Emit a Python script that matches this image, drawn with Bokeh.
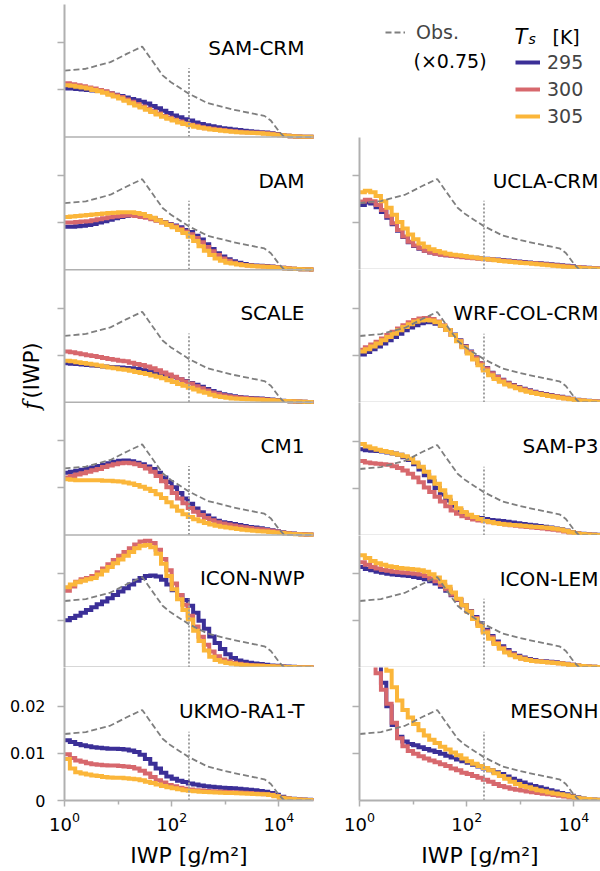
import numpy as np
from bokeh.plotting import figure
from bokeh.models import (Range1d, FixedTicker, Span, Label, Legend, LegendItem,
                          CustomJSTickFormatter)
from bokeh.layouts import row, column
from bokeh.embed import file_html
from bokeh.resources import INLINE

# ---------------- data (f(IWP) in units of 1e-3, 10 log-bins per decade) ----------------
iwp_edges = 10 ** (np.arange(48) / 10.0)          # bin edges 10^0 ... 10^4.7 g/m2
temps = ["295", "300", "305"]

sam_crm_295 = [10.3, 10.3, 10.2, 10.1, 10.0, 9.9, 9.8, 9.6, 9.3, 9.0,
               8.7, 8.4, 8.1, 7.8, 7.5, 7.1, 6.6, 6.1, 5.6, 5.1,
               4.6, 4.2, 3.8, 3.5, 3.1, 2.8, 2.5, 2.3, 2.1, 1.9,
               1.75, 1.6, 1.5, 1.35, 1.25, 1.15, 1.05, 0.95, 0.8, 0.65,
               0.45, 0.3, 0.2, 0.15, 0.1, 0.07, 0.05]
sam_crm_300 = [11.4, 11.2, 11.0, 10.8, 10.5, 10.3, 10.0, 9.7, 9.3, 8.9,
               8.5, 8.0, 7.5, 7.0, 6.5, 6.0, 5.5, 5.0, 4.5, 4.1,
               3.7, 3.3, 2.9, 2.6, 2.4, 2.1, 1.9, 1.75, 1.6, 1.5,
               1.35, 1.25, 1.15, 1.05, 1.0, 0.95, 0.9, 0.8, 0.7, 0.55,
               0.4, 0.3, 0.2, 0.15, 0.1, 0.07, 0.05]
sam_crm_305 = [11.0, 10.9, 10.7, 10.5, 10.3, 10.0, 9.7, 9.4, 9.0, 8.6,
               8.2, 7.7, 7.2, 6.7, 6.3, 5.8, 5.3, 4.8, 4.3, 3.9,
               3.5, 3.1, 2.8, 2.5, 2.2, 2.0, 1.8, 1.6, 1.5, 1.35,
               1.25, 1.15, 1.05, 1.0, 0.9, 0.85, 0.8, 0.7, 0.6, 0.5,
               0.4, 0.3, 0.2, 0.15, 0.1, 0.07, 0.05]

dam_295 = [9.1, 9.1, 9.2, 9.3, 9.5, 9.7, 10.0, 10.3, 10.6, 10.9,
           11.2, 11.4, 11.6, 11.6, 11.5, 11.2, 10.9, 10.5, 10.1, 9.7,
           9.4, 9.0, 8.4, 8.0, 7.2, 6.4, 5.4, 4.4, 3.5, 2.8,
           2.2, 1.8, 1.5, 1.2, 1.0, 0.9, 0.85, 0.8, 0.7, 0.55,
           0.4, 0.3, 0.2, 0.15, 0.1, 0.07, 0.05]
dam_300 = [10.0, 10.0, 10.1, 10.2, 10.3, 10.5, 10.7, 10.9, 11.1, 11.3,
           11.4, 11.5, 11.5, 11.4, 11.2, 11.0, 10.7, 10.4, 10.0, 9.6,
           9.2, 8.7, 8.1, 7.5, 6.7, 5.8, 4.8, 3.9, 3.1, 2.4,
           1.9, 1.5, 1.2, 1.0, 0.9, 0.8, 0.75, 0.7, 0.6, 0.5,
           0.4, 0.3, 0.2, 0.15, 0.1, 0.07, 0.05]
dam_305 = [11.2, 11.3, 11.4, 11.5, 11.6, 11.7, 11.8, 11.9, 12.0, 12.1,
           12.2, 12.2, 12.2, 12.0, 11.8, 11.4, 11.0, 10.5, 10.0, 9.5,
           9.0, 8.4, 7.8, 7.0, 6.1, 5.0, 4.0, 3.1, 2.4, 1.9,
           1.5, 1.3, 1.1, 0.95, 0.85, 0.75, 0.7, 0.65, 0.55, 0.45,
           0.35, 0.25, 0.2, 0.15, 0.1, 0.07, 0.05]

scale_295 = [8.3, 8.2, 8.1, 8.0, 7.9, 7.8, 7.7, 7.6, 7.5, 7.45,
             7.4, 7.3, 7.2, 7.05, 6.9, 6.7, 6.4, 6.2, 5.9, 5.6,
             5.3, 4.9, 4.5, 4.1, 3.7, 3.3, 2.8, 2.4, 2.0, 1.7,
             1.5, 1.3, 1.1, 1.0, 0.9, 0.85, 0.8, 0.7, 0.6, 0.5,
             0.35, 0.25, 0.2, 0.15, 0.1, 0.07, 0.05]
scale_300 = [10.8, 10.6, 10.4, 10.2, 10.0, 9.8, 9.6, 9.4, 9.2, 9.0,
             8.8, 8.7, 8.4, 8.1, 7.9, 7.6, 7.2, 6.8, 6.3, 5.9,
             5.4, 4.9, 4.4, 4.0, 3.4, 3.0, 2.5, 2.1, 1.8, 1.5,
             1.3, 1.1, 1.0, 0.9, 0.8, 0.75, 0.7, 0.6, 0.5, 0.4,
             0.3, 0.25, 0.2, 0.15, 0.1, 0.07, 0.05]
scale_305 = [8.8, 8.7, 8.5, 8.35, 8.2, 8.0, 7.8, 7.6, 7.4, 7.2,
             7.0, 6.9, 6.7, 6.4, 6.2, 6.0, 5.7, 5.4, 5.1, 4.7,
             4.3, 3.9, 3.5, 3.1, 2.7, 2.3, 2.0, 1.6, 1.3, 1.1,
             0.95, 0.8, 0.75, 0.7, 0.65, 0.6, 0.55, 0.5, 0.45, 0.4,
             0.3, 0.25, 0.2, 0.15, 0.1, 0.07, 0.05]

cm1_295 = [13.2, 13.4, 13.6, 13.8, 14.1, 14.3, 14.6, 14.9, 15.2, 15.5,
           15.7, 15.8, 15.6, 15.3, 15.0, 14.5, 14.0, 13.2, 12.2, 11.2,
           10.1, 8.9, 7.7, 6.6, 5.6, 4.8, 4.1, 3.5, 3.0, 2.7,
           2.5, 2.3, 2.1, 1.9, 1.7, 1.55, 1.4, 1.2, 1.0, 0.8,
           0.55, 0.4, 0.3, 0.2, 0.15, 0.1, 0.07]
cm1_300 = [12.2, 12.5, 12.8, 13.1, 13.4, 13.7, 14.0, 14.4, 14.7, 15.0,
           15.2, 15.3, 15.2, 15.0, 14.6, 14.1, 13.4, 12.5, 11.4, 10.1,
           8.9, 7.7, 6.7, 5.7, 4.9, 4.2, 3.6, 3.1, 2.7, 2.4,
           2.2, 2.0, 1.8, 1.6, 1.45, 1.3, 1.2, 1.05, 0.9, 0.7,
           0.5, 0.35, 0.25, 0.2, 0.15, 0.1, 0.07]
cm1_305 = [11.8, 11.7, 11.6, 11.6, 11.6, 11.6, 11.6, 11.5, 11.5, 11.4,
           11.3, 11.1, 10.9, 10.6, 10.2, 9.8, 9.3, 8.6, 7.8, 6.9,
           6.0, 5.1, 4.4, 3.8, 3.3, 2.9, 2.5, 2.2, 1.95, 1.75,
           1.55, 1.4, 1.25, 1.1, 1.0, 0.9, 0.8, 0.7, 0.6, 0.5,
           0.4, 0.3, 0.2, 0.15, 0.1, 0.07, 0.05]

icon_nwp_295 = [10.0, 10.5, 11.0, 11.6, 12.2, 12.8, 13.4, 14.0, 14.7, 15.4,
                16.1, 16.8, 17.6, 18.4, 19.0, 19.4, 19.5, 19.3, 18.6, 17.6,
                16.4, 15.3, 14.3, 13.1, 11.6, 9.9, 8.2, 6.6, 5.2, 3.9,
                2.8, 2.0, 1.5, 1.2, 1.0, 0.85, 0.75, 0.6, 0.45, 0.35,
                0.25, 0.2, 0.15, 0.1, 0.07, 0.05, 0.03]
icon_nwp_300 = [16.3, 17.2, 18.2, 18.7, 19.0, 19.4, 20.2, 21.0, 21.9, 22.8,
                23.7, 24.5, 25.3, 26.1, 26.7, 26.9, 26.4, 25.0, 23.0, 20.6,
                17.8, 15.4, 13.3, 11.0, 8.7, 6.5, 4.8, 3.4, 2.4, 1.7,
                1.3, 1.0, 0.8, 0.65, 0.55, 0.45, 0.4, 0.3, 0.25, 0.2,
                0.15, 0.1, 0.08, 0.06, 0.05, 0.04, 0.03]
icon_nwp_305 = [17.0, 17.6, 18.1, 18.4, 18.7, 19.0, 19.7, 20.5, 21.3, 22.1,
                22.9, 23.7, 24.5, 25.3, 25.8, 26.0, 25.5, 24.1, 22.0, 19.4,
                16.6, 14.5, 12.2, 10.2, 7.8, 5.6, 3.6, 2.3, 1.6, 1.2,
                0.95, 0.8, 0.65, 0.55, 0.45, 0.4, 0.35, 0.3, 0.25, 0.2,
                0.15, 0.1, 0.08, 0.06, 0.05, 0.04, 0.03]

ukmo_295 = [12.8, 12.4, 12.0, 11.7, 11.5, 11.3, 11.2, 11.1, 11.0, 11.0,
            10.9, 10.8, 10.6, 10.3, 9.7, 8.8, 7.8, 6.8, 5.9, 5.1,
            4.6, 4.2, 3.9, 3.6, 3.4, 3.2, 3.0, 2.9, 2.8, 2.7,
            2.65, 2.6, 2.5, 2.4, 2.3, 2.2, 2.0, 1.85, 1.6, 1.2,
            0.8, 0.5, 0.35, 0.25, 0.2, 0.15, 0.1]
ukmo_300 = [9.8, 9.0, 8.5, 8.2, 7.9, 7.7, 7.6, 7.5, 7.4, 7.4,
            7.3, 7.2, 7.1, 6.8, 6.3, 5.7, 5.0, 4.3, 3.8, 3.3,
            3.0, 2.7, 2.5, 2.35, 2.2, 2.1, 2.0, 1.95, 1.9, 1.85,
            1.8, 1.75, 1.7, 1.65, 1.6, 1.5, 1.45, 1.35, 1.2, 0.95,
            0.6, 0.4, 0.3, 0.2, 0.15, 0.12, 0.1]
ukmo_305 = [8.8, 6.8, 6.0, 5.7, 5.5, 5.3, 5.2, 5.0, 4.9, 4.85,
            4.8, 4.7, 4.6, 4.5, 4.3, 4.0, 3.7, 3.4, 3.1, 2.8,
            2.6, 2.4, 2.2, 2.05, 1.95, 1.85, 1.8, 1.75, 1.7, 1.65,
            1.6, 1.6, 1.55, 1.5, 1.45, 1.4, 1.35, 1.3, 1.15, 0.9,
            0.6, 0.4, 0.3, 0.2, 0.15, 0.12, 0.1]

ucla_295 = [13.7, 14.2, 14.0, 13.2, 12.2, 11.0, 9.6, 8.2, 6.9, 5.8,
            5.0, 4.4, 4.0, 3.6, 3.4, 3.2, 3.0, 2.9, 2.8, 2.7,
            2.6, 2.5, 2.4, 2.3, 2.2, 2.1, 2.0, 1.9, 1.8, 1.7,
            1.6, 1.5, 1.4, 1.3, 1.2, 1.1, 1.0, 0.9, 0.8, 0.7,
            0.55, 0.45, 0.35, 0.25, 0.2, 0.15, 0.1]
ucla_300 = [14.4, 14.8, 14.5, 13.7, 12.6, 11.3, 9.8, 8.4, 7.0, 5.9,
            5.1, 4.5, 4.0, 3.6, 3.35, 3.15, 3.0, 2.85, 2.75, 2.6,
            2.5, 2.4, 2.3, 2.2, 2.1, 2.0, 1.9, 1.8, 1.7, 1.6,
            1.5, 1.4, 1.3, 1.2, 1.1, 1.0, 0.9, 0.8, 0.7, 0.6,
            0.5, 0.4, 0.3, 0.25, 0.2, 0.15, 0.1]
ucla_305 = [16.4, 16.7, 16.4, 15.6, 14.5, 13.1, 11.6, 10.1, 8.7, 7.4,
            6.4, 5.5, 4.8, 4.3, 3.9, 3.6, 3.35, 3.15, 3.0, 2.85,
            2.7, 2.55, 2.4, 2.25, 2.1, 1.95, 1.8, 1.7, 1.6, 1.5,
            1.4, 1.3, 1.2, 1.1, 1.0, 0.9, 0.8, 0.7, 0.6, 0.5,
            0.4, 0.3, 0.25, 0.2, 0.15, 0.1, 0.08]

wrf_295 = [10.2, 10.7, 11.3, 11.9, 12.5, 13.2, 13.9, 14.6, 15.3, 15.9,
           16.4, 16.8, 17.0, 17.0, 16.7, 16.2, 15.4, 14.4, 13.2, 12.0,
           10.8, 9.6, 8.4, 7.3, 6.3, 5.5, 4.8, 4.2, 3.7, 3.3,
           2.9, 2.6, 2.3, 2.0, 1.8, 1.6, 1.4, 1.2, 1.0, 0.8,
           0.6, 0.45, 0.35, 0.25, 0.2, 0.15, 0.1]
wrf_300 = [11.2, 11.7, 12.3, 12.9, 13.6, 14.3, 15.0, 15.7, 16.4, 17.0,
           17.5, 17.8, 17.9, 17.7, 17.2, 16.4, 15.4, 14.3, 13.1, 11.9,
           10.7, 9.5, 8.3, 7.2, 6.2, 5.4, 4.7, 4.1, 3.6, 3.2,
           2.8, 2.5, 2.2, 1.9, 1.7, 1.5, 1.3, 1.1, 0.9, 0.75,
           0.55, 0.4, 0.3, 0.25, 0.2, 0.15, 0.1]
wrf_305 = [10.8, 11.3, 11.9, 12.5, 13.2, 13.9, 14.6, 15.3, 16.0, 16.6,
           17.1, 17.4, 17.5, 17.4, 17.0, 16.3, 15.4, 14.3, 13.0, 11.7,
           10.4, 9.1, 7.9, 6.8, 5.8, 5.0, 4.4, 3.8, 3.4, 3.0,
           2.6, 2.3, 2.0, 1.8, 1.6, 1.4, 1.2, 1.0, 0.85, 0.7,
           0.5, 0.4, 0.3, 0.2, 0.15, 0.1, 0.08]

sam_p3_295 = [18.3, 18.1, 18.0, 17.9, 17.8, 17.6, 17.4, 17.1, 16.6, 16.0,
              15.1, 14.0, 12.8, 11.5, 10.1, 8.7, 7.4, 6.3, 5.4, 4.7,
              4.2, 3.9, 3.7, 3.5, 3.3, 3.2, 3.05, 2.9, 2.75, 2.6,
              2.45, 2.3, 2.15, 2.0, 1.85, 1.7, 1.5, 1.3, 1.05, 0.75,
              0.5, 0.35, 0.25, 0.2, 0.15, 0.1, 0.08]
sam_p3_300 = [15.8, 15.5, 15.3, 15.2, 15.1, 15.0, 14.7, 14.3, 13.8, 13.1,
              12.3, 11.3, 10.2, 9.2, 8.2, 7.2, 6.2, 5.3, 4.6, 4.1,
              3.7, 3.4, 3.2, 3.0, 2.8, 2.65, 2.5, 2.35, 2.2, 2.05,
              1.9, 1.8, 1.7, 1.6, 1.5, 1.35, 1.2, 1.05, 0.85, 0.65,
              0.45, 0.3, 0.2, 0.15, 0.12, 0.1, 0.08]
sam_p3_305 = [19.4, 18.9, 18.5, 18.2, 17.9, 17.7, 17.4, 17.1, 16.8, 16.3,
              15.5, 14.6, 13.5, 12.3, 11.0, 9.6, 8.2, 6.9, 5.8, 5.0,
              4.4, 3.9, 3.5, 3.1, 2.85, 2.6, 2.45, 2.35, 2.25, 2.15,
              2.05, 1.95, 1.85, 1.8, 1.7, 1.6, 1.45, 1.25, 1.0, 0.7,
              0.45, 0.3, 0.2, 0.15, 0.12, 0.1, 0.08]

icon_lem_295 = [21.3, 20.9, 20.6, 20.3, 20.1, 19.9, 19.7, 19.6, 19.5, 19.4,
                19.2, 19.0, 18.7, 18.3, 17.8, 17.1, 16.3, 15.3, 14.3, 13.2,
                12.0, 10.7, 9.4, 8.0, 6.7, 5.5, 4.5, 3.7, 3.0, 2.5,
                2.1, 1.8, 1.6, 1.4, 1.3, 1.2, 1.1, 0.95, 0.8, 0.6,
                0.45, 0.3, 0.2, 0.15, 0.1, 0.08, 0.05]
icon_lem_300 = [22.3, 21.8, 21.3, 21.0, 20.7, 20.5, 20.3, 20.2, 20.1, 20.0,
                19.9, 19.7, 19.4, 18.9, 18.3, 17.5, 16.6, 15.5, 14.4, 13.2,
                11.9, 10.5, 9.1, 7.7, 6.4, 5.2, 4.2, 3.4, 2.8, 2.3,
                1.9, 1.65, 1.45, 1.3, 1.2, 1.1, 1.0, 0.9, 0.75, 0.6,
                0.45, 0.3, 0.2, 0.15, 0.1, 0.08, 0.05]
icon_lem_305 = [23.8, 23.2, 22.6, 22.1, 21.8, 21.5, 21.3, 21.1, 21.0, 20.9,
                20.8, 20.6, 20.3, 19.8, 19.1, 18.2, 17.1, 15.9, 14.6, 13.2,
                11.8, 10.3, 8.8, 7.4, 6.1, 5.0, 4.0, 3.2, 2.6, 2.2,
                1.85, 1.6, 1.4, 1.25, 1.15, 1.05, 0.95, 0.85, 0.7, 0.55,
                0.4, 0.3, 0.2, 0.15, 0.1, 0.08, 0.05]

mesonh_295 = [58.0, 44.0, 33.0, 29.0, 25.0, 20.0, 16.0, 13.5, 12.5, 12.0,
              11.7, 11.3, 10.9, 10.6, 10.3, 9.9, 9.5, 9.1, 8.7, 8.3,
              8.0, 7.6, 7.2, 6.8, 6.4, 6.0, 5.6, 5.1, 4.6, 4.2,
              3.8, 3.4, 3.1, 2.8, 2.5, 2.2, 1.9, 1.6, 1.35, 1.0,
              0.7, 0.45, 0.3, 0.2, 0.15, 0.1, 0.07]
mesonh_300 = [60.0, 45.0, 34.0, 27.0, 23.5, 20.5, 16.5, 13.2, 11.5, 10.5,
              9.9, 9.4, 8.9, 8.5, 8.1, 7.7, 7.3, 6.8, 6.4, 5.9,
              5.6, 5.2, 4.8, 4.4, 4.0, 3.5, 3.1, 2.8, 2.5, 2.3,
              2.1, 1.9, 1.75, 1.6, 1.45, 1.3, 1.15, 1.0, 0.85, 0.65,
              0.45, 0.3, 0.2, 0.15, 0.1, 0.08, 0.05]
mesonh_305 = [75.0, 55.0, 42.0, 35.0, 31.0, 27.5, 24.0, 21.2, 19.2, 17.6,
              16.2, 14.9, 13.8, 12.9, 12.2, 11.4, 10.8, 10.2, 9.6, 8.9,
              8.3, 7.8, 7.3, 6.9, 6.4, 5.8, 5.2, 4.6, 4.0, 3.5,
              3.1, 2.8, 2.5, 2.2, 1.95, 1.7, 1.5, 1.3, 1.1, 0.85,
              0.6, 0.4, 0.3, 0.2, 0.15, 0.1, 0.07]

# observations (already scaled x0.75), same in every panel
obs_iwp = [1.0, 2.5, 7.2, 14.8, 28.2, 67.6, 95.5, 209.0, 468.0, 1450.0,
           5370.0, 7080.0, 10200.0, 12600.0, 50000.0]
obs_f = [14.1, 14.5, 15.9, 17.7, 19.2, 13.1, 11.7, 9.2, 7.2, 5.8,
         4.5, 3.5, 1.1, 0.0, 0.0]

iwp_threshold = 210.0          # dotted vertical reference line
threshold_top = 14.6           # (1e-3 units)

upper_left_panels = [("SAM-CRM", sam_crm_295, sam_crm_300, sam_crm_305),
                     ("DAM", dam_295, dam_300, dam_305),
                     ("SCALE", scale_295, scale_300, scale_305),
                     ("CM1", cm1_295, cm1_300, cm1_305),
                     ("ICON-NWP", icon_nwp_295, icon_nwp_300, icon_nwp_305)]
bottom_left_panel = ("UKMO-RA1-T", ukmo_295, ukmo_300, ukmo_305)
right_panels = [("UCLA-CRM", ucla_295, ucla_300, ucla_305),
                ("WRF-COL-CRM", wrf_295, wrf_300, wrf_305),
                ("SAM-P3", sam_p3_295, sam_p3_300, sam_p3_305),
                ("ICON-LEM", icon_lem_295, icon_lem_300, icon_lem_305),
                ("MESONH", mesonh_295, mesonh_300, mesonh_305)]

# ---------------- styling ----------------
COLORS = ["#3b2f97", "#d7686d", "#fbb63a"]
OBS_COLOR = "#7f7f7f"
THR_COLOR = "#a0a0a0"
AX = "#b0b0b0"
FONT = "DejaVu Sans"
PX = 4715.0          # screen px per unit of f
DEC = 53.6           # screen px per decade
LX_END = 10 ** (249 / DEC)
RX_END = 10 ** (241 / DEC)
YLAB_W = 52


def add_curves(p, series, yname):
    for vals, col in zip(series, COLORS):
        f = np.append(np.asarray(vals, float), vals[-1]) * 1e-3
        p.step(x=iwp_edges, y=f, mode="after", line_color=col, line_width=4,
               line_join="miter", y_range_name=yname)
    p.line(obs_iwp, np.asarray(obs_f) * 1e-3, line_color=OBS_COLOR, line_width=1.8,
           line_dash="6 3", y_range_name=yname)
    p.line([iwp_threshold, iwp_threshold], [0, threshold_top * 1e-3], line_color=THR_COLOR,
           line_width=2, line_dash="2 2", y_range_name=yname)


def panel_label(p, name, x_end, x_off, top, yname="default"):
    p.add_layout(Label(x=x_end, y=top - 43.5 / PX, x_offset=x_off, y_range_name=yname,
                       text=name, text_align="right", text_baseline="alphabetic",
                       text_font=FONT, text_font_size="20px", text_color="black"))


def style_axes(p):
    for ax in p.axis:
        ax.axis_line_color = AX
        ax.axis_line_width = 2
        ax.major_tick_line_color = AX
        ax.major_tick_line_width = 1.5
        ax.major_tick_in = 0
        ax.major_tick_out = 7
        ax.minor_tick_line_color = AX
        ax.minor_tick_line_width = 1.5
        ax.minor_tick_in = 0
        ax.minor_tick_out = 4
        ax.major_label_text_font = FONT
        ax.major_label_text_color = "black"


def style_xaxis(p):
    p.xaxis.ticker = FixedTicker(ticks=[1, 100, 10000], minor_ticks=[10, 1000])
    p.xaxis.major_tick_out = 6
    p.xaxis.major_label_text_font_size = "18px"
    p.xaxis.major_label_standoff = 5
    p.xaxis.axis_label = "IWP [g/m²]"
    p.xaxis.axis_label_text_font = FONT
    p.xaxis.axis_label_text_font_style = "normal"
    p.xaxis.axis_label_text_font_size = "22px"
    p.xaxis.axis_label_text_color = "black"
    p.xaxis.axis_label_standoff = 9


def blank_fig(w, h, xr, yr, **kw):
    f = figure(frame_width=w, frame_height=h, x_range=Range1d(*xr), y_range=Range1d(*yr),
               x_axis_location=None, y_axis_location=None, toolbar_location=None,
               output_backend="svg", outline_line_color=None, **kw)
    f.grid.visible = False
    return f


# ---------------- y-axis title figure (left strip) ----------------
ylab = blank_fig(YLAB_W, 667, (0, YLAB_W), (0, 667), min_border=0)
ylab.add_layout(Label(x=31, y=667 - 405, text="f", angle=np.pi / 2, text_align="left",
                      text_baseline="alphabetic", text_font="DejaVu Serif",
                      text_font_style="italic", text_font_size="22px", text_color="black"))
ylab.add_layout(Label(x=31, y=667 - 394, text="(IWP)", angle=np.pi / 2, text_align="left",
                      text_baseline="alphabetic", text_font=FONT, text_font_size="21px",
                      text_color="black"))

# ---------------- left column, upper five panels (one stacked figure) ----------------
UH = 663
HU = (UH / 5) / PX
pu = figure(frame_width=249, frame_height=UH, x_axis_type="log", x_axis_location=None,
            x_range=Range1d(1, LX_END), y_range=Range1d(0, 5 * HU),
            min_border_left=64 - YLAB_W, min_border_right=15, min_border_top=4,
            min_border_bottom=0, toolbar_location=None, output_backend="svg",
            outline_line_color=None)
pu.grid.visible = False
pu.extra_y_ranges = {f"U{i}": Range1d(-(4 - i) * HU, (i + 1) * HU) for i in range(5)}
for i, (name, a, b, c) in enumerate(upper_left_panels):
    yn = f"U{i}"
    add_curves(pu, (a, b, c), yn)
    pu.add_layout(Span(location=0, dimension="width", y_range_name=yn,
                       line_color=AX, line_width=1.5 if i < 4 else 2))
    panel_label(pu, name, LX_END, -9, HU, yn)
style_axes(pu)
pu.yaxis.ticker = FixedTicker(ticks=[j * HU + t for j in range(5) for t in (0.01, 0.02)])
pu.yaxis.formatter = CustomJSTickFormatter(code="return '';")
pu.yaxis.major_label_standoff = 1

# ---------------- left column, bottom panel ----------------
BH = 133
HB = BH / PX
pb = figure(frame_width=249, frame_height=BH, x_axis_type="log",
            x_range=Range1d(1, LX_END), y_range=Range1d(0, HB),
            min_border_left=64, min_border_right=15, min_border_top=0, min_border_bottom=71,
            toolbar_location=None, output_backend="svg", outline_line_color=None)
pb.grid.visible = False
name, a, b, c = bottom_left_panel
add_curves(pb, (a, b, c), "default")
panel_label(pb, name, LX_END, -9, HB)
style_axes(pb)
style_xaxis(pb)
pb.yaxis.ticker = FixedTicker(ticks=[0, 0.01, 0.02])
pb.yaxis.formatter = CustomJSTickFormatter(
    code="return tick == 0 ? '0' : tick.toFixed(2);")
pb.yaxis.major_label_text_font_size = "16px"
pb.yaxis.major_label_standoff = 12

# ---------------- legend figure (top right) ----------------
lg = blank_fig(241, 133, (0, 241), (0, 133), min_border_left=31, min_border_right=0,
               min_border_top=4, min_border_bottom=0)
r_obs = lg.line(x=[-100, -90], y=[-100, -100], line_color=OBS_COLOR, line_width=1.8,
                line_dash="6 3")
r_t = [lg.line(x=[-100, -90], y=[-100, -100], line_color=c, line_width=4) for c in COLORS]
leg_obs = Legend(items=[LegendItem(label="Obs.", renderers=[r_obs])], location=(26, 94),
                 glyph_width=20, glyph_height=22, label_height=22, label_standoff=11,
                 padding=0, margin=0, spacing=5, border_line_color=None,
                 background_fill_alpha=0, label_text_font=FONT, label_text_font_size="19px")
leg_t = Legend(items=[LegendItem(label=t, renderers=[r]) for t, r in zip(temps, r_t)],
               location=(156, 10), glyph_width=25, glyph_height=22, label_height=22,
               label_standoff=7, padding=0, margin=0, spacing=5, border_line_color=None,
               background_fill_alpha=0, label_text_font=FONT, label_text_font_size="19px")
lg.add_layout(leg_obs)
lg.add_layout(leg_t)
lg.add_layout(Label(x=54, y=77, text="(×0.75)", text_font=FONT, text_font_size="19px",
                    text_baseline="alphabetic", text_color="black"))
lg.add_layout(Label(x=155, y=100.3, text="T", text_font=FONT, text_font_style="italic",
                    text_font_size="21px", text_baseline="alphabetic", text_color="black"))
lg.add_layout(Label(x=169, y=98.7, text="s", text_font=FONT, text_font_style="italic",
                    text_font_size="14px", text_baseline="alphabetic", text_color="black"))
lg.add_layout(Label(x=193, y=100.3, text="[K]", text_font=FONT, text_font_size="19px",
                    text_baseline="alphabetic", text_color="black"))

# ---------------- right column: one figure per panel ----------------
right_heights = [132, 133, 133, 132, 133]
rfigs = []
for i, (name, a, b, c) in enumerate(right_panels):
    h = right_heights[i]
    last = i == len(right_panels) - 1
    Hr = h / PX
    p = figure(frame_width=241, frame_height=h, x_axis_type="log",
               x_axis_location="below" if last else None,
               x_range=Range1d(1, RX_END), y_range=Range1d(0, Hr),
               min_border_left=31, min_border_right=0, min_border_top=0,
               min_border_bottom=71 if last else 0,
               toolbar_location=None, output_backend="svg", outline_line_color=None)
    p.grid.visible = False
    add_curves(p, (a, b, c), "default")
    if not last:
        p.add_layout(Span(location=0, dimension="width", line_color=AX, line_width=1.5))
    panel_label(p, name, RX_END, -2, Hr)
    style_axes(p)
    if last:
        style_xaxis(p)
    p.yaxis.ticker = FixedTicker(ticks=[0.01, 0.02])
    p.yaxis.formatter = CustomJSTickFormatter(code="return '';")
    p.yaxis.major_label_standoff = 2
    rfigs.append(p)

left_col = column(row(ylab, pu), pb)
right_col = column(lg, *rfigs)
layout = row(left_col, right_col)
open("out.html", "w").write(file_html(layout, INLINE, "IWP distributions"))
